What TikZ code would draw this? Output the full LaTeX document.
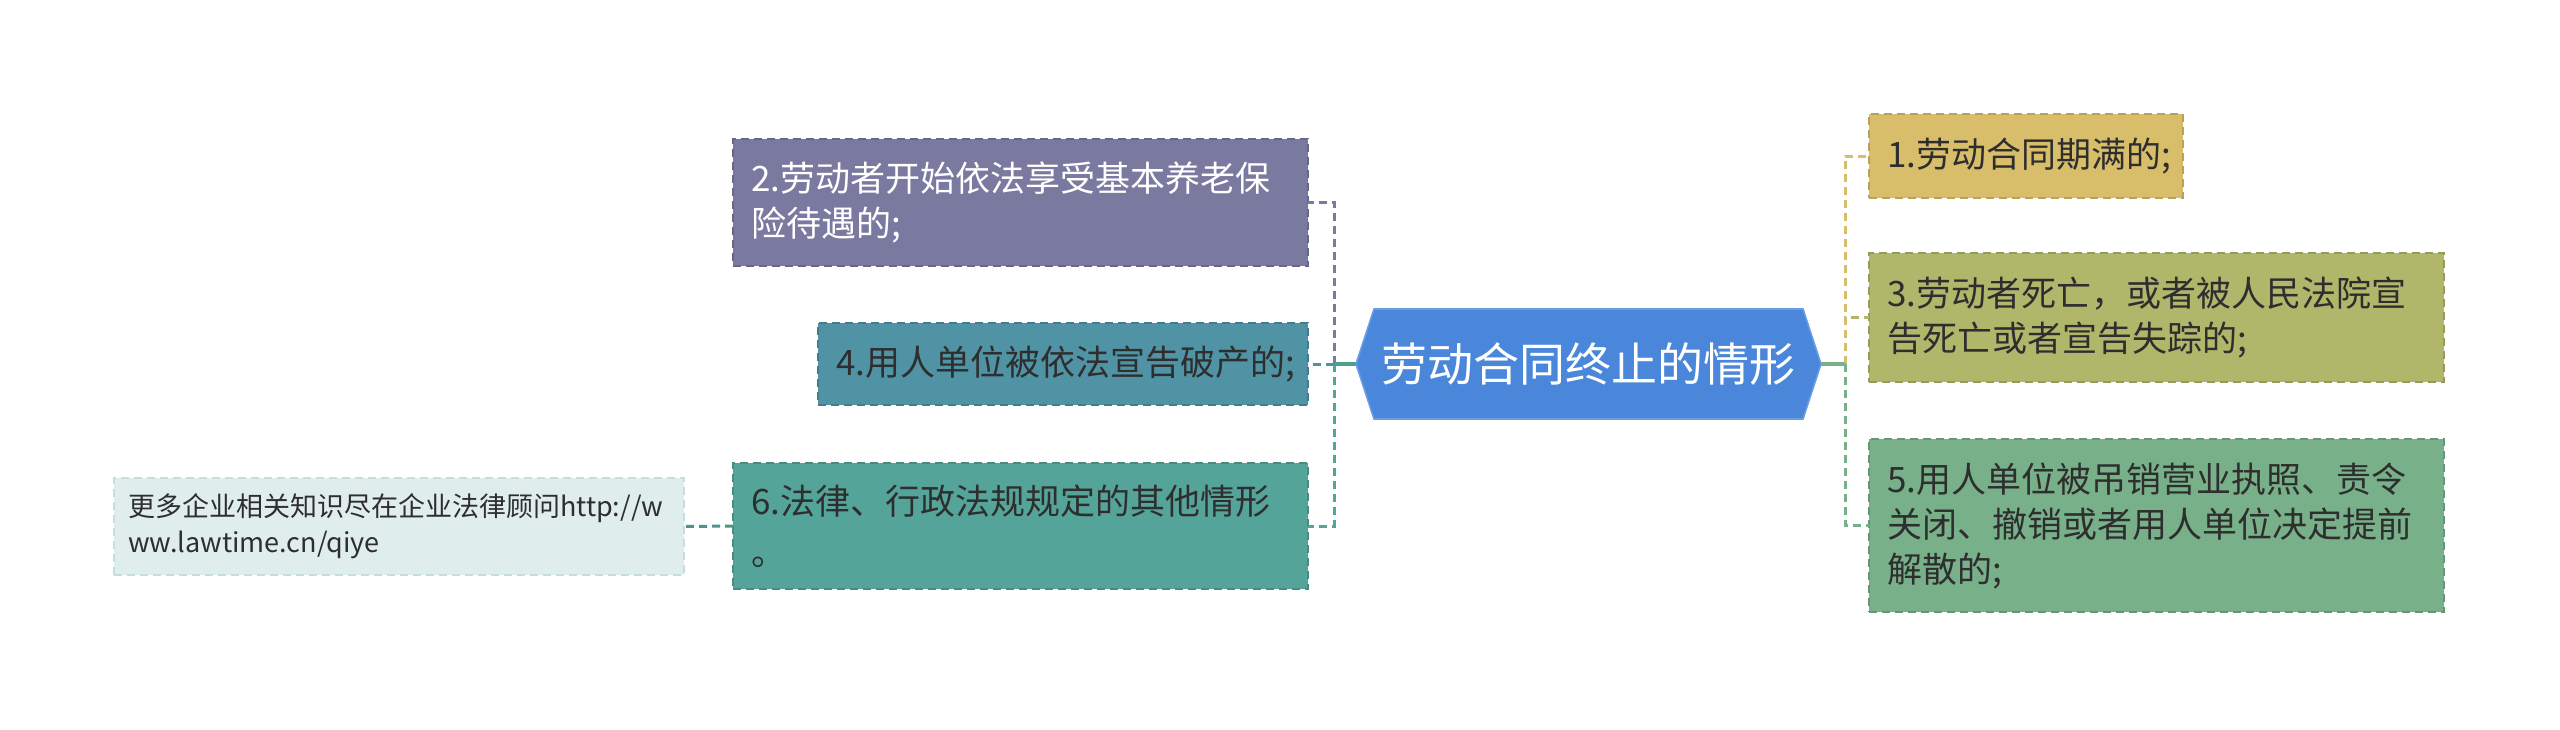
\documentclass[tikz,border=0pt]{standalone}
\usepackage{fontspec}
\setmainfont{Noto Sans CJK SC}
\usetikzlibrary{calc}
\definecolor{cTwo}{HTML}{7A799F}
\definecolor{cFour}{HTML}{4F93A5}
\definecolor{cSix}{HTML}{55A49A}
\definecolor{cMore}{HTML}{DFEEEC}
\definecolor{cMoreB}{HTML}{C4DEDB}
\definecolor{cHex}{HTML}{4A86DA}
\definecolor{cHexB}{HTML}{6A9CE6}
\definecolor{cOne}{HTML}{D8BE6A}
\definecolor{cThree}{HTML}{B0B66A}
\definecolor{cFive}{HTML}{78B08A}
\definecolor{cText}{HTML}{2E2E2E}
\definecolor{cStubL}{HTML}{4E9E8E}
\tikzset{
  box/.style={rectangle, dashed, dash pattern=on 4pt off 2.5pt, line width=0.9pt, outer sep=0pt,
    inner xsep=9pt, inner ysep=0pt, align=left, text=cText,
    font=\fontsize{17.5}{22.5}\selectfont},
  conn/.style={line width=1.5pt, dash pattern=on 4pt off 2.5pt},
  stub/.style={line width=1.8pt}
}
\begin{document}
\begin{tikzpicture}[x=0.5pt,y=-0.5pt]
\useasboundingbox (0,0) rectangle (2560,729);
% centre hexagon
\node[rectangle, outer sep=0pt, minimum width=232.5pt, minimum height=55pt, inner sep=0pt] (c) at (1588.5,364) {};
\filldraw[fill=cHex, draw=cHexB, line width=0.8pt]
  (c.west) -- ([xshift=9pt]c.north west) -- ([xshift=-9pt]c.north east) -- (c.east)
  -- ([xshift=-9pt]c.south east) -- ([xshift=9pt]c.south west) -- cycle;
\node[text=white, font=\fontsize{23}{28}\selectfont] (ct) at (c.center) {劳动合同终止的情形};
% left nodes
\node[box, fill=cTwo, draw=cTwo!85!black, text=white, text width=269.5pt, minimum height=63.5pt] (n2) at (1020.5,202.5)
  {2.劳动者开始依法享受基本养老保\\险待遇的;};
\node[box, fill=cFour, draw=cFour!85!black, text width=227pt, minimum height=41pt] (n4) at (1063,364)
  {4.用人单位被依法宣告破产的;};
\node[box, fill=cSix, draw=cSix!85!black, text width=269.5pt, minimum height=63pt] (n6) at (1020.5,526)
  {6.法律、行政法规规定的其他情形\\[3pt]。};
\node[box, fill=cMore, draw=cMoreB, inner xsep=7pt, text width=271pt, minimum height=48.5pt,
  font=\fontsize{13.5}{18}\selectfont] (more) at (399,526.5)
  {更多企业相关知识尽在企业法律顾问http://w\\ww.lawtime.cn/qiye};
% right nodes
\node[box, fill=cOne, draw=cOne!85!black, text width=139pt, minimum height=42pt] (n1) at (2026,156)
  {1.劳动合同期满的;};
\node[box, fill=cThree, draw=cThree!85!black, text width=269.5pt, minimum height=64.5pt] (n3) at (2156.5,317.5)
  {3.劳动者死亡，或者被人民法院宣\\告死亡或者宣告失踪的;};
\node[box, fill=cFive, draw=cFive!85!black, text width=269.5pt, minimum height=86.5pt] (n5) at (2156.5,525.5)
  {5.用人单位被吊销营业执照、责令\\关闭、撤销或者用人单位决定提前\\解散的;};
% trunks
\coordinate (L) at (1334,364);
\coordinate (R) at (1845,364);
% left connectors
\draw[conn, cSix] (L) |- (n6.east);
\draw[conn, cTwo] (L) |- (n2.east);
\draw[conn, cFour] (L) -- (n4.east);
\draw[stub, cStubL] (c.west) -- (L);
\draw[conn, cSix!90!black] (n6.west) -- (more.east);
% right connectors
\draw[conn, cFive] (R) |- (n5.west);
\draw[conn, cThree] (R) |- (n3.west);
\draw[conn, cOne] (R) |- (n1.west);
\draw[stub, cFive] (c.east) -- (R);
\end{tikzpicture}
\end{document}
